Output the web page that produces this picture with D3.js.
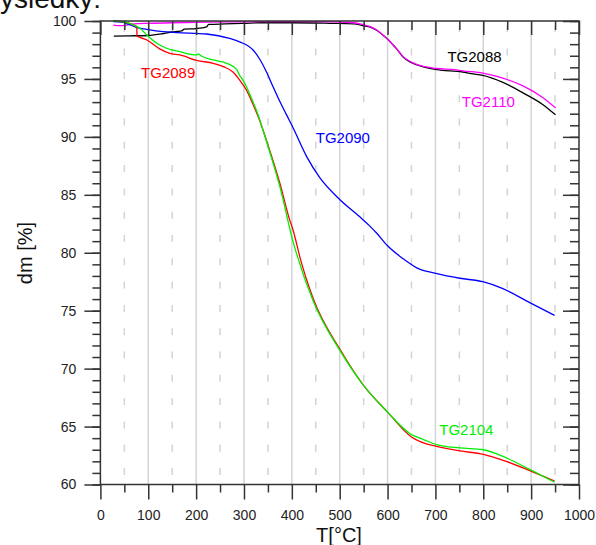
<!DOCTYPE html>
<html>
<head>
<meta charset="utf-8">
<script src="https://cdn.jsdelivr.net/npm/d3@7"></script>
<style>
  body { margin: 0; background: #fff; }
  svg { display: block; font-family: "Liberation Sans", Arial, sans-serif; }
</style>
</head>
<body>
<svg id="chart" width="596" height="545"></svg>
<script>
// temperatures [°C] and mass [%]
var tg2088_T  = [28, 60, 100, 130, 150, 160, 170, 175, 200, 222, 226, 260, 300, 337, 400, 480, 530, 548, 565, 577, 590, 601, 610, 619, 632, 650, 673, 703, 757, 775, 799, 841, 883, 924, 951];
var tg2088_dm = [98.7, 98.72, 98.75, 98.9, 99.05, 99.1, 99.15, 99.3, 99.35, 99.5, 99.7, 99.75, 99.8, 99.85, 99.85, 99.8, 99.75, 99.6, 99.45, 99.2, 98.8, 98.4, 98.0, 97.6, 96.9, 96.4, 96.06, 95.8, 95.6, 95.45, 95.3, 94.7, 93.8, 92.8, 91.9];

var tg2110_T  = [27, 40, 55, 70, 100, 150, 200, 285, 350, 450, 530, 548, 565, 577, 590, 601, 619, 632, 650, 673, 703, 740, 757, 799, 841, 883, 924, 951];
var tg2110_dm = [99.65, 99.6, 99.65, 99.75, 99.8, 99.85, 99.88, 99.92, 99.95, 99.95, 99.85, 99.7, 99.5, 99.25, 98.8, 98.4, 97.6, 96.95, 96.45, 96.1, 95.9, 95.8, 95.7, 95.5, 95.06, 94.4, 93.4, 92.5];

var tg2090_T  = [27, 45, 60, 75, 97, 131, 160, 222, 270, 291, 319, 333, 347, 361, 375, 389, 403, 431, 458, 500, 542, 563, 577, 600, 632, 661, 703, 751, 799, 841, 897, 949];
var tg2090_dm = [99.95, 99.9, 99.7, 99.45, 99.28, 99.08, 99.0, 98.88, 98.5, 98.2, 97.5, 96.7, 95.6, 94.3, 93.05, 91.9, 90.75, 88.3, 86.5, 84.6, 83.1, 82.3, 81.7, 80.6, 79.5, 78.7, 78.2, 77.8, 77.5, 76.9, 75.7, 74.6];

var tg2089_T  = [27, 45, 61, 76, 76.5, 85, 97, 124, 145, 166, 201, 236, 257, 277, 291, 305, 319, 333, 347, 375, 395, 403, 405, 417, 445, 500, 549, 601, 650, 681, 702, 751, 800, 848, 897, 949];
var tg2089_dm = [100, 99.95, 99.8, 99.5, 98.7, 98.55, 98.36, 97.6, 97.2, 97.07, 96.6, 96.35, 96.06, 95.6, 94.9, 94.05, 92.8, 91.4, 89.7, 86.0, 82.9, 81.9, 81.6, 79.6, 76.0, 71.7, 68.6, 66.2, 64.1, 63.5, 63.3, 62.9, 62.6, 62.0, 61.2, 60.3];

var tg2104_T  = [26, 45, 61, 83, 97, 118, 138, 166, 201, 205, 210, 236, 264, 285, 291, 298, 319, 326, 347, 375, 403, 410, 445, 500, 549, 601, 650, 674, 702, 751, 800, 848, 897, 949];
var tg2104_dm = [100, 99.95, 99.8, 99.37, 98.8, 98.08, 97.65, 97.35, 97.07, 97.15, 97.0, 96.64, 96.35, 95.8, 95.3, 94.9, 93.0, 92.3, 89.6, 85.7, 80.9, 79.9, 75.8, 71.6, 68.6, 66.2, 64.3, 63.9, 63.45, 63.16, 63.0, 62.3, 61.3, 60.2];

var seriesNames  = ["TG2088", "TG2110", "TG2090", "TG2089", "TG2104"];
var seriesColors = ["#000000", "#ff00ff", "#0000ff", "#ff0000", "#00ee00"];
var seriesT  = [tg2088_T, tg2110_T, tg2090_T, tg2089_T, tg2104_T];
var seriesDm = [tg2088_dm, tg2110_dm, tg2090_dm, tg2089_dm, tg2104_dm];
// label anchor (in data units): left x, baseline y
var labelT  = [725, 755, 450, 85, 708];
var labelDm = [96.5, 92.6, 89.45, 95.1, 64.3];

var xMajor = d3.range(0, 1001, 100);
var xMinor = d3.range(50, 1000, 100);
var yMajor = d3.range(60, 101, 5);
var yMinor = d3.range(60, 101, 1);

var plotL = 100.4, plotR = 579, plotT = 21, plotB = 484.5;

var svg = d3.select("#chart");

var x = d3.scaleLinear().domain([0, 1000]).range([plotL, plotR]);
var y = d3.scaleLinear().domain([60, 100]).range([plotB, plotT]);

svg.append("text")
  .attr("x", -14).attr("y", 8)
  .attr("font-size", 28).attr("fill", "#111")
  .text("výsledky:");

// grid
var grid = svg.append("g");
grid.selectAll("line.solid").data(xMajor.slice(1, -1)).enter().append("line")
  .attr("x1", function(d){ return x(d); }).attr("x2", function(d){ return x(d); })
  .attr("y1", plotT).attr("y2", plotB)
  .attr("stroke", "#d4d4d4").attr("stroke-width", 1.5);
grid.selectAll("line.dash").data(xMinor).enter().append("line")
  .attr("x1", function(d){ return x(d); }).attr("x2", function(d){ return x(d); })
  .attr("y1", plotT).attr("y2", plotB)
  .attr("stroke", "#d4d4d4").attr("stroke-width", 1.5)
  .attr("stroke-dasharray", "7,16.3").attr("stroke-dashoffset", 19);

// curves
var line = d3.line()
  .curve(d3.curveMonotoneX)
  .x(function(d){ return x(d[0]); })
  .y(function(d){ return y(d[1]); });

seriesNames.forEach(function(name, i){
  var pts = seriesT[i].map(function(t, k){ return [t, seriesDm[i][k]]; });
  svg.append("path")
    .datum(pts)
    .attr("d", line)
    .attr("fill", "none")
    .attr("stroke", seriesColors[i])
    .attr("stroke-width", 1.3)
    .attr("stroke-linejoin", "round");
  svg.append("text")
    .attr("x", x(labelT[i])).attr("y", y(labelDm[i]))
    .attr("font-size", 15).attr("fill", seriesColors[i])
    .text(name);
});

// axes
function styleAxis(g){
  g.select(".domain").remove();
  g.selectAll(".tick line").attr("stroke", "#333").attr("stroke-width", 1.5);
  g.selectAll(".tick text").attr("fill", "#222").attr("font-size", 14)
    .attr("font-family", "Liberation Sans, Arial, sans-serif");
}

svg.append("g").attr("transform", "translate(0," + plotB + ")")
  .call(d3.axisBottom(x).tickValues(xMinor).tickSize(8).tickFormat(""))
  .call(styleAxis);
svg.append("g").attr("transform", "translate(0," + plotB + ")")
  .call(d3.axisBottom(x).tickValues(xMajor).tickSize(15).tickPadding(11).tickFormat(d3.format("d")))
  .call(styleAxis);

svg.append("g").attr("transform", "translate(0," + plotT + ")")
  .call(d3.axisBottom(x).tickValues(xMinor).tickSize(9).tickFormat(""))
  .call(styleAxis);
svg.append("g").attr("transform", "translate(0," + plotT + ")")
  .call(d3.axisBottom(x).tickValues(xMajor).tickSize(14).tickFormat(""))
  .call(styleAxis);

svg.append("g").attr("transform", "translate(" + plotL + ",0)")
  .call(d3.axisLeft(y).tickValues(yMinor).tickSize(8).tickFormat(""))
  .call(styleAxis);
svg.append("g").attr("transform", "translate(" + plotL + ",0)")
  .call(d3.axisLeft(y).tickValues(yMajor).tickSize(16).tickPadding(8).tickFormat(d3.format("d")))
  .call(styleAxis);

svg.append("g").attr("transform", "translate(" + plotR + ",0)")
  .call(d3.axisLeft(y).tickValues(yMinor).tickSize(9).tickFormat(""))
  .call(styleAxis);
svg.append("g").attr("transform", "translate(" + plotR + ",0)")
  .call(d3.axisLeft(y).tickValues(yMajor).tickSize(16).tickFormat(""))
  .call(styleAxis);

// frame
svg.append("rect")
  .attr("x", plotL).attr("y", plotT)
  .attr("width", plotR - plotL).attr("height", plotB - plotT)
  .attr("fill", "none").attr("stroke", "#333").attr("stroke-width", 1.5);

// titles
svg.append("text")
  .attr("x", 339).attr("y", 542)
  .attr("text-anchor", "middle").attr("font-size", 20).attr("fill", "#111")
  .text("T[°C]");
svg.append("text")
  .attr("transform", "translate(32,253) rotate(-90)")
  .attr("text-anchor", "middle").attr("font-size", 20).attr("fill", "#111")
  .text("dm [%]");
</script>
</body>
</html>
